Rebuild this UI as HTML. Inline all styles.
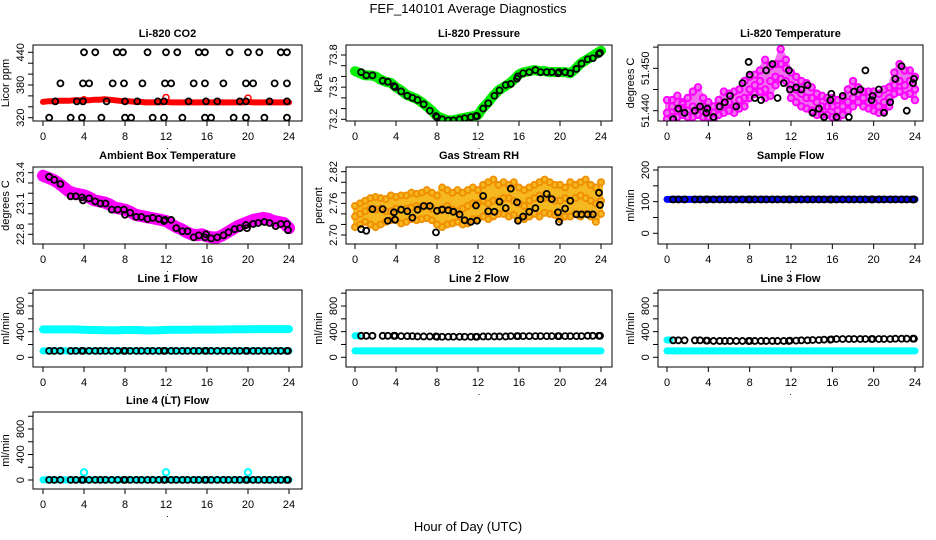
<!DOCTYPE html>
<html><head><meta charset="utf-8"><style>
html,body{margin:0;padding:0;background:#fff}
svg{display:block;font-family:"Liberation Sans",Arial,sans-serif}
</style></head><body>
<svg id="chart" width="936" height="540" viewBox="0 0 936 540" xmlns="http://www.w3.org/2000/svg">
<text x="468" y="13" text-anchor="middle" font-size="13">FEF_140101  Average Diagnostics</text>
<text x="468" y="531" text-anchor="middle" font-size="13">Hour of Day (UTC)</text>
</svg>
<script>
// ---------- data ----------
const halfHours = [0,0.5,1,1.5,2,2.5,3,3.5,4,4.5,5,5.5,6,6.5,7,7.5,8,8.5,9,9.5,10,10.5,11,11.5,12,12.5,13,13.5,14,14.5,15,15.5,16,16.5,17,17.5,18,18.5,19,19.5,20,20.5,21,21.5,22,22.5,23,23.5,24];
const hours = [0,1,2,3,4,5,6,7,8,9,10,11,12,13,14,15,16,17,18,19,20,21,22,23,24];
const blackT = [0.6,1.1,1.7,2.7,3.2,3.8,3.9,4.5,5.1,5.6,6.1,6.7,7.3,7.9,8.0,8.5,9.1,9.6,10.2,10.7,11.3,11.8,11.9,12.5,13.0,13.6,14.1,14.7,15.2,15.8,15.9,16.4,17.0,17.6,18.1,18.7,19.2,19.8,19.9,20.5,21.0,21.6,22.1,22.7,23.2,23.8,23.9];

const co2Red = [349,350,350,351,351,351,352,352,352,352,353,353,354,353,352,351,350,350,349,349,348,348,348,348,349,348,348,348,348,348,348,348,348,348,348,348,348,348,348,348,349,348,348,348,348,348,348,348,348];
const co2RedOutT = [4,12,20];
const co2RedOutV = [353,357,356];
const co2BlackT = [4,5.1,7.2,7.8,10.2,12,13.1,15.2,15.8,18.2,20,21.1,23.2,23.8, 1.7,3.9,4.5,6.8,7.9,9.7,11.9,12.5,14.7,15.8,17.6,19.8,20.5,22.6,23.8, 1.2,3.3,3.9,6.2,8,9.2,11.2,11.8,14.2,15.9,17,19.2,19.8,22.1,23.8, 0.6,2.7,3.8,5.7,8,8.6,10.7,11.8,13.6,15.8,16.4,18.6,19.8,21.6,23.8];
const co2BlackV = [440,440,440,440,440,440,440,440,440,440,440,440,440,440, 383,383,383,383,383,383,383,383,383,383,383,383,383,383,383, 350,350,350,350,350,350,350,350,350,350,350,350,350,350,350, 320,320,320,320,320,320,320,320,320,320,320,320,320,320,320];

const pressGreen = [73.65,73.63,73.61,73.61,73.6,73.57,73.55,73.54,73.5,73.47,73.43,73.41,73.39,73.36,73.32,73.28,73.23,73.21,73.19,73.19,73.2,73.21,73.22,73.23,73.24,73.31,73.36,73.42,73.47,73.5,73.53,73.57,73.62,73.64,73.65,73.66,73.65,73.65,73.64,73.64,73.64,73.64,73.63,73.67,73.72,73.75,73.78,73.81,73.84];
const pressBlack = [73.64,73.61,73.61,73.56,73.55,73.51,73.5,73.46,73.42,73.4,73.38,73.34,73.28,73.23,73.22,73.2,73.19,73.19,73.2,73.21,73.22,73.23,73.23,73.3,73.35,73.42,73.47,73.52,73.53,73.58,73.6,73.63,73.64,73.66,73.64,73.64,73.64,73.63,73.64,73.64,73.63,73.67,73.72,73.76,73.77,73.81,73.82];

const tempA = [51.4395,51.441,51.440,51.4415,51.440,51.441,51.4405,51.441,51.440,51.4395,51.441,51.4415,51.442,51.441,51.4425,51.443,51.445,51.446,51.447,51.445,51.447,51.448,51.451,51.450,51.446,51.445,51.444,51.443,51.443,51.442,51.441,51.441,51.441,51.440,51.441,51.442,51.443,51.444,51.443,51.442,51.442,51.441,51.442,51.443,51.446,51.447,51.446,51.447,51.445];
const tempB = [51.4425,51.4425,51.4435,51.442,51.443,51.4445,51.4455,51.443,51.442,51.441,51.4425,51.4445,51.444,51.4445,51.445,51.447,51.448,51.4485,51.4495,51.452,51.4505,51.451,51.4545,51.452,51.449,51.448,51.447,51.4465,51.4455,51.444,51.4435,51.443,51.443,51.4425,51.443,51.445,51.447,51.4455,51.4445,51.4445,51.4445,51.444,51.445,51.4455,51.449,51.451,51.4495,51.4495,51.448];
const tempC = [51.438,51.4385,51.4385,51.439,51.4385,51.4385,51.439,51.4385,51.4385,51.438,51.439,51.4395,51.440,51.4395,51.4405,51.441,51.443,51.444,51.4445,51.443,51.4435,51.446,51.4475,51.447,51.443,51.442,51.441,51.4405,51.440,51.439,51.439,51.439,51.4385,51.438,51.439,51.440,51.441,51.442,51.441,51.4405,51.440,51.4395,51.440,51.441,51.444,51.4445,51.4435,51.444,51.4425];
const tempBlack = [51.438,51.4405,51.4395,51.440,51.441,51.4395,51.4405,51.4385,51.441,51.442,51.4435,51.441,51.4465,51.4515,51.4485,51.443,51.4425,51.4495,51.451,51.443,51.4465,51.4495,51.445,51.4455,51.445,51.446,51.4395,51.4405,51.4385,51.4425,51.444,51.4385,51.4435,51.4385,51.4445,51.445,51.4495,51.4425,51.4435,51.445,51.4395,51.442,51.4475,51.4505,51.440,51.4465,51.4475];

const ambMag = [23.37,23.35,23.33,23.3,23.26,23.22,23.2,23.19,23.18,23.16,23.13,23.12,23.11,23.09,23.06,23.05,23.04,23.02,22.99,22.98,22.97,22.96,22.95,22.94,22.93,22.9,22.87,22.85,22.82,22.8,22.79,22.8,22.78,22.77,22.77,22.79,22.82,22.85,22.88,22.9,22.92,22.94,22.95,22.96,22.95,22.93,22.92,22.91,22.86];
const ambBlack = [23.36,23.33,23.29,23.17,23.17,23.16,23.13,23.15,23.12,23.1,23.1,23.04,23.04,23.04,22.99,23.01,22.97,22.97,22.95,22.96,22.95,22.93,22.94,22.94,22.86,22.83,22.83,22.77,22.79,22.77,22.8,22.76,22.77,22.79,22.82,22.85,22.86,22.89,22.86,22.9,22.91,22.92,22.91,22.88,22.9,22.9,22.84];

const rhA = [2.735,2.74,2.745,2.75,2.748,2.75,2.745,2.745,2.75,2.748,2.75,2.752,2.755,2.752,2.755,2.75,2.745,2.75,2.755,2.748,2.745,2.75,2.755,2.76,2.76,2.765,2.76,2.765,2.765,2.77,2.77,2.765,2.76,2.755,2.765,2.77,2.775,2.77,2.77,2.765,2.765,2.77,2.765,2.77,2.775,2.77,2.765,2.76,2.765];
const rhB = [2.755,2.76,2.765,2.77,2.772,2.77,2.768,2.775,2.772,2.775,2.775,2.78,2.778,2.78,2.785,2.78,2.775,2.79,2.785,2.78,2.785,2.78,2.785,2.79,2.785,2.795,2.8,2.805,2.795,2.8,2.795,2.8,2.79,2.785,2.79,2.795,2.8,2.805,2.8,2.795,2.795,2.79,2.8,2.795,2.8,2.805,2.795,2.79,2.8];
const rhC = [2.715,2.72,2.725,2.72,2.715,2.72,2.725,2.728,2.728,2.722,2.725,2.73,2.728,2.73,2.732,2.728,2.72,2.715,2.72,2.722,2.725,2.72,2.722,2.73,2.73,2.735,2.73,2.735,2.74,2.74,2.735,2.738,2.73,2.73,2.735,2.74,2.735,2.742,2.74,2.738,2.73,2.735,2.735,2.74,2.735,2.74,2.735,2.725,2.74];
const rhBlack = [2.711,2.708,2.749,2.749,2.727,2.743,2.729,2.748,2.745,2.733,2.748,2.755,2.755,2.705,2.746,2.748,2.747,2.744,2.739,2.728,2.725,2.756,2.727,2.774,2.745,2.744,2.763,2.751,2.788,2.762,2.727,2.735,2.744,2.751,2.768,2.778,2.768,2.743,2.725,2.75,2.765,2.739,2.739,2.739,2.739,2.78,2.757];

const sampleBlue = [107,107,107,107,107,107,107,107,107,107,107,107,107,107,107,107,107,107,107,107,107,107,107,107,107];
const sampleBlack = [107,107,107,107,107,107,107,107,107,107,107,107,107,107,107,107,107,107,107,107,107,107,107,107,107,107,107,107,107,107,107,107,107,107,107,107,107,107,107,107,107,107,107,107,107,107,107];

const line1Hi = [435,435,435,435,430,425,422,420,425,425,420,420,428,430,430,432,432,432,435,438,438,440,440,440,440];
const line1Lo = [100,100,100,100,100,100,100,100,100,100,100,100,100,100,100,100,100,100,100,100,100,100,100,100,100];
const line1Black = [100,100,100,100,100,100,100,100,100,100,100,100,100,100,100,100,100,100,100,100,100,100,100,100,100,100,100,100,100,100,100,100,100,100,100,100,100,100,100,100,100,100,100,100,100,100,100];

const line2Lo = [100,100,100,100,100,100,100,100,100,100,100,100,100,100,100,100,100,100,100,100,100,100,100,100,100];
const line2HiT = [0,0.3];
const line2HiV = [335,335];
const line2Black = [335,335,335,335,335,335,335,330,330,330,325,325,325,325,320,320,320,320,320,320,320,320,320,325,325,325,325,325,330,330,330,330,330,330,330,330,330,330,330,330,330,330,330,335,335,335,335];

const line3Lo = [100,100,100,100,100,100,100,100,100,100,100,100,100,100,100,100,100,100,100,100,100,100,100,100,100];
const line3HiT = [0,0.3];
const line3HiV = [270,270];
const line3Black = [265,265,265,265,265,260,260,255,255,255,255,255,255,255,255,255,255,255,255,255,255,255,260,260,265,265,270,270,275,275,280,285,285,285,285,285,285,285,285,285,285,285,290,290,290,290,290];

const line4Lo = [2,2,2,2,2,2,2,2,2,2,2,2,2,2,2,2,2,2,2,2,2,2,2,2,2];
const line4OutT = [4,12,20];
const line4OutV = [120,120,120];
const line4Black = [2,2,2,2,2,2,2,2,2,2,2,2,2,2,2,2,2,2,2,2,2,2,2,2,2,2,2,2,2,2,2,2,2,2,2,2,2,2,2,2,2,2,2,2,2,2,2];

const xTicks = [0,4,8,12,16,20,24];

// ---------- drawing ----------
const svg = document.getElementById('chart');
const NS = 'http://www.w3.org/2000/svg';
function mk(tag, attrs, parent){
  const e = document.createElementNS(NS, tag);
  for (const k in attrs) e.setAttribute(k, attrs[k]);
  (parent || svg).appendChild(e);
  return e;
}
const cols = [{bl:33,br:302,x0:43,x24:289},{bl:346,br:612,x0:355,x24:601},{bl:658,br:923,x0:667,x24:915}];
const rows = [{bt:45,bb:121},{bt:167,bb:244},{bt:290,bb:367},{bt:412,bb:489}];

function makePanel(name, title, ylab, c, r, v1, p1, v2, p2, ticks, labels){
  const col = cols[c], row = rows[r];
  const g = mk('g', {});
  
  
  const sx = t => col.x0 + t / 24 * (col.x24 - col.x0);
  const sy = v => p1 + (v - v1) / (v2 - v1) * (p2 - p1);
  const cx = (col.bl + col.br) / 2;
  const tt = mk('text', {x:cx, y:row.bt - 8, 'text-anchor':'middle', 'font-size':11, 'font-weight':'bold'}, g);
  tt.textContent = title;
  
  
  const yl = mk('text', {x:0, y:0, 'text-anchor':'middle', 'font-size':11, transform:`translate(${col.bl-24},${(row.bt+row.bb)/2}) rotate(-90)`}, g);
  yl.textContent = ylab;
  
  
  const pg = mk('g', {}, g);
  
  
  const box = mk('rect', {x:col.bl, y:row.bt, width:col.br-col.bl, height:row.bb-row.bt, fill:'none', stroke:'#000', 'stroke-width':1}, g);
  
  
  const xa = mk('g', {}, g);
  
  
  xTicks.forEach(t => {
    mk('line', {x1:sx(t), x2:sx(t), y1:row.bb, y2:row.bb+5, stroke:'#000'}, xa);
    const lb = mk('text', {x:sx(t), y:row.bb+19, 'text-anchor':'middle', 'font-size':11}, xa);
    lb.textContent = t;
    
    
  });
  const dot = mk('text', {x:cx, y:row.bb+28, 'text-anchor':'middle', 'font-size':9}, xa);
  dot.textContent = '.';
  const ya = mk('g', {}, g);
  
  
  ticks.forEach(v => mk('line', {x1:col.bl-5, x2:col.bl, y1:sy(v), y2:sy(v), stroke:'#000'}, ya));
  labels.forEach(lv => {
    const lb = mk('text', {x:0, y:0, 'text-anchor':'middle', 'font-size':11, transform:`translate(${col.bl-9},${sy(lv[0])}) rotate(-90)`}, ya);
    lb.textContent = lv[1];
    
    
  });
  const cp = mk('clipPath', {id:'clip-' + name}, g);
  mk('rect', {x:col.bl, y:row.bt, width:col.br-col.bl, height:row.bb-row.bt}, cp);
  pg.setAttribute('clip-path', `url(#clip-${name})`);
  return {sx, sy, pg};
}
function band(P, ts, vs, color, w, nm){
  const pts = ts.map((t,i) => P.sx(t).toFixed(1) + ',' + P.sy(vs[i]).toFixed(1)).join(' ');
  const pl = mk('polyline', {points:pts, fill:'none', stroke:color, 'stroke-width':w, 'stroke-linejoin':'round', 'stroke-linecap':'round'}, P.pg);
  
  
}
function area(P, ts, hi, lo, color, nm){
  const a = ts.map((t,i) => P.sx(t).toFixed(1) + ',' + P.sy(hi[i]).toFixed(1));
  const b = ts.map((t,i) => P.sx(t).toFixed(1) + ',' + P.sy(lo[i]).toFixed(1)).reverse();
  const pg = mk('polygon', {points:a.concat(b).join(' '), fill:color, stroke:color, 'stroke-width':4, 'stroke-linejoin':'round'}, P.pg);
  
  
}
function pts(P, ts, vs, color, r, sw, nm){
  ts.forEach((t,i) => {
    const c = mk('circle', {cx:P.sx(t), cy:P.sy(vs[i]), r:r, fill:'none', stroke:color, 'stroke-width':sw}, P.pg);
    
    
  });
}
function range(a,b,s){const o=[];for(let v=a;v<=b+1e-9;v+=s)o.push(+v.toFixed(4));return o;}

// CO2
let P = makePanel('co2', 'Li-820 CO2', 'Licor ppm', 0, 0, 440, 52.3, 320, 117.7, range(320,440,20), [[320,'320'],[380,'380'],[440,'440']]);
band(P, halfHours, co2Red, '#ff0000', 6, 'co2-red-series');
pts(P, co2RedOutT, co2RedOutV, '#ff0000', 3, 1.5, 'co2-red-point');
pts(P, co2BlackT, co2BlackV, '#000', 3, 1.8, 'co2-black-point');

// Pressure
P = makePanel('pressure', 'Li-820 Pressure', 'kPa', 1, 0, 73.8, 55, 73.2, 119.3, range(73.2,73.8,0.1), [[73.2,'73.2'],[73.5,'73.5'],[73.8,'73.8']]);
band(P, halfHours, pressGreen, '#00ee00', 10, 'pressure-green-series');
pts(P, blackT, pressBlack, '#000', 3, 1.8, 'pressure-black-point');

// Temperature
P = makePanel('li820-temp', 'Li-820 Temperature', 'degrees C', 2, 0, 51.450, 68.3, 51.440, 110.7, range(51.440,51.455,0.005), [[51.440,'51.440'],[51.450,'51.450']]);
area(P, halfHours, tempB, tempC, '#f070f0', 'temp-magenta-cloud');
[tempA, tempB, tempC].forEach(arr => {
  pts(P, halfHours, arr, '#ff00ff', 3.2, 2, 'temp-magenta-point');
});
pts(P, blackT, tempBlack, '#000', 3, 1.8, 'temp-black-point');

// Ambient
P = makePanel('ambient', 'Ambient Box Temperature', 'degrees C', 0, 1, 23.4, 172.7, 22.8, 234.3, range(22.8,23.4,0.1), [[22.8,'22.8'],[23.1,'23.1'],[23.4,'23.4']]);
band(P, halfHours, ambMag, '#ff00ff', 12, 'ambient-magenta-series');
pts(P, blackT, ambBlack, '#000', 3, 1.8, 'ambient-black-point');

// RH
P = makePanel('rh', 'Gas Stream RH', 'percent', 1, 1, 2.82, 171.7, 2.70, 235, range(2.70,2.82,0.02), [[2.70,'2.70'],[2.76,'2.76'],[2.82,'2.82']]);
area(P, halfHours, rhB, rhC, '#f5b820', 'rh-orange-cloud');
[rhA, rhB, rhC].forEach(arr => {
  pts(P, halfHours, arr, '#f09000', 3, 2, 'rh-orange-point');
});
pts(P, blackT, rhBlack, '#000', 3, 1.8, 'rh-black-point');

// Sample flow
P = makePanel('sample-flow', 'Sample Flow', 'ml/min', 2, 1, 200, 170, 0, 233.3, range(0,200,50), [[0,'0'],[100,'100'],[200,'200']]);
band(P, hours, sampleBlue, '#0000ff', 7, 'sample-blue-series');
pts(P, blackT, sampleBlack, '#000', 3, 1.8, 'sample-black-point');

const flowTicks = range(0,1000,200), flowLabels = [[0,'0'],[400,'400'],[800,'800']];
P = makePanel('line1', 'Line 1 Flow', 'ml/min', 0, 2, 0, 357.3, 800, 306, flowTicks, flowLabels);
band(P, hours, line1Hi, '#00ffff', 8, 'line1-cyan-high');
band(P, hours, line1Lo, '#00ffff', 7, 'line1-cyan-low');
pts(P, blackT, line1Black, '#000', 3, 1.8, 'line1-black-point');

P = makePanel('line2', 'Line 2 Flow', 'ml/min', 1, 2, 0, 357.3, 800, 306, flowTicks, flowLabels);
band(P, hours, line2Lo, '#00ffff', 7, 'line2-cyan-low');
band(P, line2HiT, line2HiV, '#00ffff', 7, 'line2-cyan-high');
pts(P, blackT, line2Black, '#000', 3, 1.8, 'line2-black-point');

P = makePanel('line3', 'Line 3 Flow', 'ml/min', 2, 2, 0, 357.3, 800, 306, flowTicks, flowLabels);
band(P, hours, line3Lo, '#00ffff', 7, 'line3-cyan-low');
band(P, line3HiT, line3HiV, '#00ffff', 7, 'line3-cyan-high');
pts(P, blackT, line3Black, '#000', 3, 1.8, 'line3-black-point');

P = makePanel('line4', 'Line 4 (LT) Flow', 'ml/min', 0, 3, 0, 480, 800, 429, flowTicks, flowLabels);
band(P, hours, line4Lo, '#00ffff', 7, 'line4-cyan-series');
pts(P, line4OutT, line4OutV, '#00ffff', 3.2, 2, 'line4-cyan-outlier');
pts(P, blackT, line4Black, '#000', 3, 1.8, 'line4-black-point');
</script>
</body></html>
